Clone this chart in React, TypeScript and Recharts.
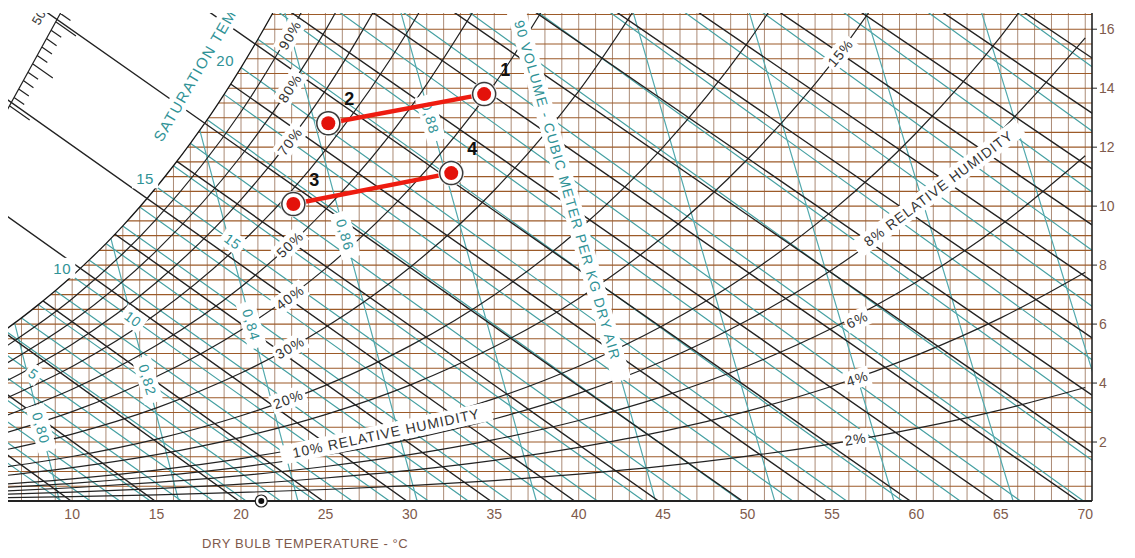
import { ComposedChart, Line, Area, Scatter, XAxis, YAxis, CartesianGrid, ReferenceDot, Label } from 'recharts';

const FONT = '"Liberation Sans", Arial, Helvetica, sans-serif';
const BROWN_TEXT = '#7e5a4c';
const TEAL = '#45a0a2';
const TEAL_TEXT = '#2f9296';
const INK = '#222222';

// axes: dry bulb (°C) and moisture content (g/kg dry air)
const tempTicks = [10, 15, 20, 25, 30, 35, 40, 45, 50, 55, 60, 65, 70];
const moistureTicks = [2, 4, 6, 8, 10, 12, 14, 16];
const gridTemps = Array.from({ length: 64 }, (_, i) => 7 + i);
const gridMoisture = Array.from({ length: 33 }, (_, i) => 0.5 + i * 0.5);

// saturation curve
const satTemps = [6, 7, 8, 9, 10, 11, 12, 13, 14, 15, 16, 17, 18, 19, 20, 21, 22, 23];
const satMoisture = [5.79, 6.21, 6.66, 7.13, 7.63, 8.17, 8.73, 9.33, 9.97, 10.65, 11.37, 12.13, 12.93, 13.79, 14.7, 15.66, 16.67, 17.74];

// relative humidity curves, sampled at rhTemps
const rhTemps = [6, 10, 15, 20, 25, 30, 35, 40, 45, 50, 55, 60, 65, 70];
const rh90 = [5.21, 6.86, 9.57, 13.2, 18.02];
const rh80 = [4.63, 6.09, 8.49, 11.7, 15.96, 21.58];
const rh70 = [4.04, 5.32, 7.42, 10.22, 13.92, 18.8];
const rh60 = [3.46, 4.56, 6.35, 8.74, 11.9, 16.04, 21.44];
const rh50 = [2.88, 3.79, 5.28, 7.26, 9.88, 13.31, 17.77];
const rh40 = [2.3, 3.03, 4.22, 5.8, 7.88, 10.6, 14.13, 18.68];
const rh30 = [1.73, 2.27, 3.16, 4.34, 5.89, 7.92, 10.54, 13.9, 18.18];
const rh20 = [1.15, 1.51, 2.1, 2.89, 3.92, 5.26, 6.99, 9.2, 12.0, 15.54, 19.97];
const rh15 = [0.86, 1.13, 1.57, 2.16, 2.93, 3.93, 5.23, 6.87, 8.96, 11.59, 14.86, 18.93];
const rh10 = [0.57, 0.75, 1.05, 1.44, 1.95, 2.62, 3.47, 4.57, 5.95, 7.68, 9.83, 12.49, 15.76, 19.76];
const rh8 = [0.46, 0.6, 0.84, 1.15, 1.56, 2.09, 2.78, 3.65, 4.75, 6.13, 7.84, 9.95, 12.55, 15.71];
const rh6 = [0.34, 0.45, 0.63, 0.86, 1.17, 1.57, 2.08, 2.73, 3.55, 4.58, 5.86, 7.43, 9.36, 11.71];
const rh4 = [0.23, 0.3, 0.42, 0.57, 0.78, 1.04, 1.38, 1.82, 2.36, 3.05, 3.89, 4.94, 6.21, 7.76];
const rh2 = [0.11, 0.15, 0.21, 0.29, 0.39, 0.52, 0.69, 0.91, 1.18, 1.52, 1.94, 2.46, 3.09, 3.85];
const rhCurves = [rh90, rh80, rh70, rh60, rh50, rh40, rh30, rh20, rh15, rh10, rh8, rh6, rh4, rh2];

// wet bulb lines: start on saturation, end on the zero-moisture line
const wbTemps = [0, 1, 2, 3, 4, 5, 6, 7, 8, 9, 10, 11, 12, 13, 14, 15, 16, 17, 18, 19, 20, 21, 22, 23, 24, 25, 26, 27, 28, 29, 30, 31, 32];
const wbSatMoisture = [3.77, 4.06, 4.36, 4.69, 5.04, 5.4, 5.79, 6.21, 6.66, 7.13, 7.63, 8.17, 8.73, 9.33, 9.97, 10.65, 11.37, 12.13, 12.93, 13.79, 14.7, 15.66, 16.67, 17.74, 18.88, 20.08, 21.35, 22.7, 24.12, 25.62, 27.2, 28.87, 30.65];
const wbDryEnd = [9.37, 11.08, 12.82, 14.63, 16.48, 18.36, 20.31, 22.34, 24.43, 26.58, 28.79, 31.1, 33.46, 35.91, 38.46, 41.11, 43.85, 46.68, 49.61, 52.68, 55.87, 59.17, 62.59, 66.16, 69.89, 73.76, 77.79, 82.02, 86.4, 90.97, 95.73, 100.7, 105.93];

// enthalpy lines (kJ/kg): dry bulb at 0 g/kg and at 20 g/kg
const enthalpyValues = [10, 15, 20, 25, 30, 35, 40, 45, 50, 55, 60, 65, 70, 75, 80, 85, 90, 95, 100, 105, 110];
const enthalpyDryEnd = [9.94, 14.91, 19.88, 24.85, 29.82, 34.79, 39.76, 44.73, 49.7, 54.67, 59.64, 64.61, 69.58, 74.55, 79.52, 84.49, 89.46, 94.43, 99.4, 104.37, 109.34];
const enthalpyAt20 = [-38.37, -33.57, -28.78, -23.99, -19.19, -14.4, -9.6, -4.81, -0.02, 4.77, 9.57, 14.36, 19.15, 23.95, 28.74, 33.53, 38.33, 43.12, 47.91, 52.71, 57.5];

// specific volume lines (m3/kg)
const volumeValues = [0.8, 0.82, 0.84, 0.86, 0.88, 0.9, 0.92, 0.94, 0.96, 0.98];
const volumeDryEnd = [9.25, 16.31, 23.37, 30.43, 37.49, 44.55, 51.61, 58.67, 65.73, 72.79];
const volumeAt20 = [0.45, 7.29, 14.13, 20.97, 27.81, 34.65, 41.49, 48.33, 55.17, 62.01];

// enthalpy ruler in the top-left corner
const rulerFrom = [6.08, 13.19];
const rulerTo = [9.4, 16.64];
const rulerMarks = [40, 41, 42, 43, 44, 45, 46, 47, 48, 49, 50, 51];

// process points
const pointNames = ['1', '2', '3', '4'];
const pointTemps = [34.4, 25.17, 23.1, 32.45];
const pointMoisture = [13.8, 12.81, 10.07, 11.12];

// annotations
const rhLabelText = ['90%', '80%', '70%', '50%', '40%', '30%', '20%', '10% RELATIVE HUMIDITY', '15%', '8% RELATIVE HUMIDITY', '6%', '4%', '2%'];
const rhLabelT = [22.9, 22.9, 22.9, 22.9, 22.9, 22.9, 22.8, 28.6, 55.5, 61.3, 56.5, 56.5, 56.4];
const rhLabelW = [15.8, 14.0, 12.2, 8.7, 6.9, 5.2, 3.45, 2.3, 15.2, 10.6, 6.15, 4.15, 2.1];
const rhLabelAngle = [-60, -57, -53, -44, -37, -30, -21, -12, -50, -37, -25, -18, -9];

const satLabelText = ['20', '15', '10'];
const satLabelT = [19.06, 14.32, 9.41];
const satLabelW = [14.95, 10.95, 7.9];

const wbLabelText = ['15', '10', '5'];
const wbLabelT = [19.5, 13.6, 7.7];
const wbLabelW = [8.8, 6.17, 4.31];

const volLabelText = ['0,80', '0,82', '0,84', '0,86', '0,88', '90 VOLUME - CUBIC METER PER KG DRY AIR'];
const volLabelT = [8.16, 14.46, 20.61, 26.16, 31.21, 39.33];
const volLabelW = [2.47, 4.1, 5.97, 9.02, 12.98, 10.54];

// ---------- helpers ----------
const seg = (list: number[][]) =>
  list.flatMap(([t1, w1, t2, w2]) => [
    { t: t1, w: w1 },
    { t: t2, w: w2 },
    { t: t2, w: null as number | null },
  ]);

const wetBulbData = seg(wbTemps.map((t, i) => [t, wbSatMoisture[i], wbDryEnd[i], 0]));
const enthalpyRows = enthalpyValues.map((h, i) => [h, enthalpyDryEnd[i], 0, enthalpyAt20[i], 20]);
const enthalpyMinor = seg(enthalpyRows.filter((r) => r[0] % 10 !== 0).map((r) => r.slice(1)));
const enthalpyMajor = seg(enthalpyRows.filter((r) => r[0] % 10 === 0).map((r) => r.slice(1)));
const volumeData = seg(volumeValues.map((_, i) => [volumeDryEnd[i], 0, volumeAt20[i], 20]));

const enthalpyAt = (t: number, w: number) => 1.006 * t + w * (2.501 + 0.00186 * t);
const rulerData = (() => {
  const hA = enthalpyAt(rulerFrom[0], rulerFrom[1]);
  const hB = enthalpyAt(rulerTo[0], rulerTo[1]);
  const ticks = rulerMarks.map((h) => {
    const f = (h - hA) / (hB - hA);
    const t = rulerFrom[0] + f * (rulerTo[0] - rulerFrom[0]);
    const w = rulerFrom[1] + f * (rulerTo[1] - rulerFrom[1]);
    const len = h % 5 === 0 ? 1.2 : 0.6;
    return [t, w, t + len, w - 0.4 * len];
  });
  return seg([[rulerFrom[0], rulerFrom[1], rulerTo[0], rulerTo[1]], ...ticks]);
})();

const satData = satTemps.map((t, i) => ({ t, w: satMoisture[i] }));
const maskData = satTemps.map((t, i) => ({ t, band: [satMoisture[i], 18] }));

const labels = (texts: string[], ts: number[], ws: number[], angle: number | number[]) =>
  texts.map((text, i) => ({ t: ts[i], w: ws[i], text, angle: Array.isArray(angle) ? angle[i] : angle }));

const rhLabels = labels(rhLabelText, rhLabelT, rhLabelW, rhLabelAngle);
const satLabels = labels(satLabelText, satLabelT, satLabelW, 0);
const wbLabels = labels(wbLabelText, wbLabelT, wbLabelW, 36);
const volLabels = labels(volLabelText, volLabelT, volLabelW, 74);
const satTitle = labels(['SATURATION TEMPERATURE'], [15.04], [12.24], -60);
const rulerLabel = labels(['50'], [8.03], [16.41], -60);

const points = pointNames.map((name, i) => ({ t: pointTemps[i], w: pointMoisture[i], name }));
const line21 = [points[1], points[0]];
const line34 = [points[2], points[3]];

const makeTag = (color: string, size: number, box: boolean, anchor: 'middle' | 'start' = 'middle', spacing = 1) => (p: any) => {
  const { cx, cy, payload } = p;
  if (cx == null || cy == null) return <g />;
  const text: string = payload.text;
  const wpx = text.length * size * 0.64 + text.length * spacing + 6;
  const x0 = anchor === 'start' ? -3 : -wpx / 2;
  return (
    <g transform={`translate(${cx},${cy}) rotate(${payload.angle})`}>
      {box && <rect x={x0} y={-size * 0.68} width={wpx} height={size * 1.36} fill="#ffffff" />}
      <text
        x={0}
        y={0}
        textAnchor={anchor}
        dominantBaseline="central"
        fontSize={size}
        fontFamily={FONT}
        fill={color}
        letterSpacing={spacing}
      >
        {text}
      </text>
    </g>
  );
};

const PointMark = (p: any) => {
  const { cx, cy, payload } = p;
  if (cx == null || cy == null) return <g />;
  return (
    <g>
      <circle cx={cx} cy={cy} r={13} fill="#f2f2f2" />
      <circle cx={cx} cy={cy} r={11.5} fill="#ffffff" stroke="#3a3a3a" strokeWidth={1.5} />
      <circle cx={cx} cy={cy} r={7} fill="#e3120b" />
      <text x={cx + 21} y={cy - 24} textAnchor="middle" dominantBaseline="central" fontSize={18} fontWeight="bold" fontFamily={FONT} fill="#111">
        {payload.name}
      </text>
    </g>
  );
};

const BottomMark = (p: any) => (
  <g>
    <circle cx={p.cx} cy={p.cy} r={6} fill="#ffffff" stroke={INK} strokeWidth={1.2} />
    <circle cx={p.cx} cy={p.cy} r={3} fill="#111" />
  </g>
);

const AxisTitle = (p: any) => {
  const vb = p.viewBox || { x: 8, y: 501, width: 1084, height: 57 };
  return (
    <text
      x={vb.x + ((23.8 - 6.2) / 64.2) * vb.width}
      y={vb.y + vb.height - 10}
      textAnchor="middle"
      fontSize={13}
      fontFamily={FONT}
      fill={BROWN_TEXT}
      letterSpacing={0.6}
    >
      DRY BULB TEMPERATURE - °C
    </text>
  );
};

const thin = { dot: false, activeDot: false, isAnimationActive: false, connectNulls: false, legendType: 'none' as const };

export default function App() {
  return (
    <div style={{ position: 'absolute', left: 0, top: 0, width: 1135, height: 558, background: '#fff', fontFamily: FONT }}>
      <ComposedChart width={1135} height={558} margin={{ top: 13, right: 0, bottom: 0, left: 8 }}>
        <XAxis
          dataKey="t"
          type="number"
          domain={[6.2, 70.4]}
          ticks={tempTicks}
          interval={0}
          allowDataOverflow
          height={57}
          tickLine={false}
          axisLine={{ stroke: INK, strokeWidth: 2 }}
          tick={{ fill: BROWN_TEXT, fontSize: 14, fontFamily: FONT }}
        >
          <Label content={AxisTitle} />
        </XAxis>
        <YAxis
          orientation="right"
          type="number"
          domain={[0, 16.55]}
          ticks={moistureTicks}
          interval={0}
          allowDataOverflow
          width={43}
          tickSize={5}
          tickLine={{ stroke: INK }}
          axisLine={{ stroke: INK, strokeWidth: 1.6 }}
          tick={{ fill: BROWN_TEXT, fontSize: 14, fontFamily: FONT }}
        />

        {/* brown grid */}
        <CartesianGrid horizontal={false} verticalValues={gridTemps} stroke="#a27e66" strokeWidth={0.9} />
        <CartesianGrid vertical={false} horizontalValues={gridMoisture} stroke="#9c5a28" strokeWidth={1.1} />

        {/* chart families under the saturation mask */}
        <Line data={wetBulbData} dataKey="w" type="linear" stroke={TEAL} strokeWidth={1.2} zIndex={300} {...thin} />
        <Line data={volumeData} dataKey="w" type="linear" stroke="#52a9ad" strokeWidth={1.2} zIndex={300} {...thin} />
        <Line data={enthalpyMinor} dataKey="w" type="linear" stroke={INK} strokeWidth={1.4} zIndex={300} {...thin} />
        {rhCurves.map((vals, k) => (
          <Line
            key={`rh-${k}`}
            data={vals.map((w, i) => ({ t: rhTemps[i], w }))}
            dataKey="w"
            type="monotone"
            stroke={INK}
            strokeWidth={1.2}
            zIndex={300}
            {...thin}
          />
        ))}

        {/* white region above saturation */}
        <Area data={maskData} dataKey="band" type="monotone" stroke="none" fill="#ffffff" fillOpacity={1} zIndex={350} isAnimationActive={false} legendType="none" activeDot={false} />

        <Line data={satData} dataKey="w" type="monotone" stroke="#161616" strokeWidth={1.3} zIndex={400} {...thin} />
        <Line data={enthalpyMajor} dataKey="w" type="linear" stroke={INK} strokeWidth={1.4} zIndex={400} {...thin} />
        <Line data={rulerData} dataKey="w" type="linear" stroke={INK} strokeWidth={1.2} zIndex={400} {...thin} />

        {/* labels */}
        <Scatter data={rhLabels} dataKey="w" shape={makeTag('#333333', 14, true, 'middle', 1)} zIndex={600} isAnimationActive={false} legendType="none" />
        <Scatter data={volLabels} dataKey="w" shape={makeTag(TEAL_TEXT, 14, true, 'middle', 1.3)} zIndex={600} isAnimationActive={false} legendType="none" />
        <Scatter data={wbLabels} dataKey="w" shape={makeTag(TEAL_TEXT, 14, true, 'middle', 0.5)} zIndex={600} isAnimationActive={false} legendType="none" />
        <Scatter data={satLabels} dataKey="w" shape={makeTag(TEAL_TEXT, 15, true, 'middle', 0.5)} zIndex={600} isAnimationActive={false} legendType="none" />
        <Scatter data={satTitle} dataKey="w" shape={makeTag(TEAL_TEXT, 15, true, 'start', 1.4)} zIndex={600} isAnimationActive={false} legendType="none" />
        <Scatter data={rulerLabel} dataKey="w" shape={makeTag('#333333', 13, false, 'middle', 0.5)} zIndex={600} isAnimationActive={false} legendType="none" />

        {/* process lines and points */}
        <Line data={line21} dataKey="w" type="linear" stroke="#ee1c10" strokeWidth={4.5} zIndex={650} {...thin} />
        <Line data={line34} dataKey="w" type="linear" stroke="#ee1c10" strokeWidth={4.5} zIndex={650} {...thin} />
        <Scatter data={points} dataKey="w" shape={PointMark} zIndex={700} isAnimationActive={false} legendType="none" />

        <ReferenceDot x={21.2} y={0} r={6} shape={BottomMark} ifOverflow="visible" zIndex={800} />
      </ComposedChart>
    </div>
  );
}
